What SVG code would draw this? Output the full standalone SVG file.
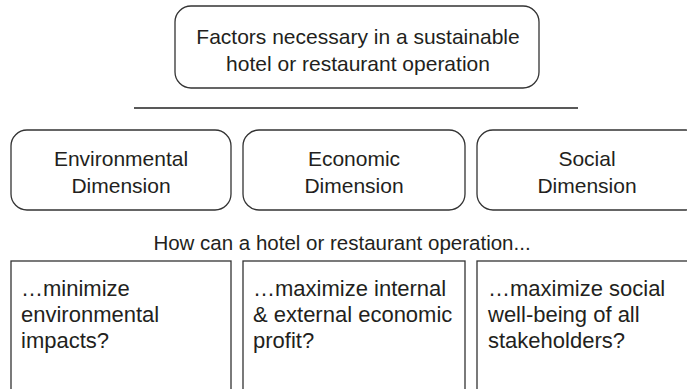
<svg xmlns="http://www.w3.org/2000/svg" width="687" height="389" viewBox="0 0 687 389">
<style>
.box{fill:#fff;stroke:#333;stroke-width:1.3}
.t{font-family:"Liberation Sans",Arial,sans-serif;font-size:21px;fill:#231f20}
.b{font-size:22px}
.q{font-size:20.5px}
.c{text-anchor:middle}
</style>
<rect width="687" height="389" fill="#fff"/>
<g id="title">
<rect class="box" x="175" y="6" width="364" height="82" rx="16"/>
<text class="t c" x="358" y="44">Factors necessary in a sustainable</text>
<text class="t c" x="358" y="71">hotel or restaurant operation</text>
</g>
<g id="connectors">
<line x1="134" y1="108" x2="578" y2="108" stroke="#222" stroke-width="1.5"/>
</g>
<g id="env">
<rect class="box" x="11" y="130" width="220" height="80" rx="16"/>
<text class="t c" x="121" y="166">Environmental</text>
<text class="t c" x="121" y="193">Dimension</text>
</g>
<g id="eco">
<rect class="box" x="243" y="130" width="222" height="80" rx="16"/>
<text class="t c" x="354" y="166">Economic</text>
<text class="t c" x="354" y="193">Dimension</text>
</g>
<g id="soc">
<rect class="box" x="477" y="130" width="225" height="80" rx="16"/>
<text class="t c" x="587" y="166">Social</text>
<text class="t c" x="587" y="193">Dimension</text>
</g>
<g id="question">
<text class="t q c" x="342" y="250">How can a hotel or restaurant operation...</text>
</g>
<g id="q1">
<rect class="box" x="11" y="261" width="220" height="140"/>
<text class="t b" x="21" y="296">…minimize</text>
<text class="t b" x="21" y="322">environmental</text>
<text class="t b" x="21" y="348">impacts?</text>
</g>
<g id="q2">
<rect class="box" x="243" y="261" width="222" height="140"/>
<text class="t b" x="253" y="296">…maximize internal</text>
<text class="t b" x="253" y="322">&amp; external economic</text>
<text class="t b" x="253" y="348">profit?</text>
</g>
<g id="q3">
<rect class="box" x="477" y="261" width="225" height="140"/>
<text class="t b" x="488" y="296">…maximize social</text>
<text class="t b" x="488" y="322">well-being of all</text>
<text class="t b" x="488" y="348">stakeholders?</text>
</g>
</svg>
